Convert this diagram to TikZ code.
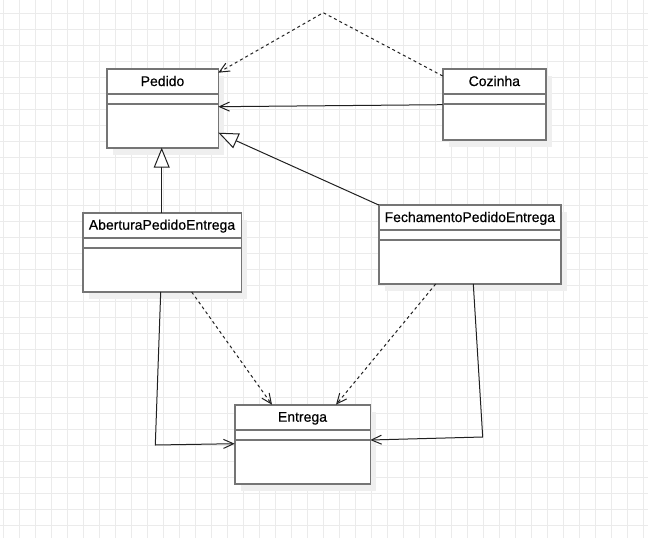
\documentclass[tikz,border=0pt]{standalone}
\usepackage{fontspec}
\setmainfont{Liberation Sans}
\usetikzlibrary{arrows.meta,calc}
\definecolor{gridc}{HTML}{EBEBEB}
\definecolor{shadowc}{HTML}{EFEFEF}
\definecolor{boxc}{HTML}{757575}
\definecolor{linec}{HTML}{202020}
\tikzset{
  gridline/.style={draw=gridc, line width=1pt},
  cls/.style={draw=boxc, fill=white, line width=1.6pt, rectangle, inner sep=0pt, outer sep=0pt, anchor=north west},
  shadowbox/.style={fill=shadowc, draw=none},
  sepline/.style={draw=boxc, line width=1.6pt},
  title/.style={font=\fontsize{14}{16}\selectfont\addfontfeature{FakeBold=0.5}, anchor=base, inner sep=0pt},
  vee/.style={-{Straight Barb[length=10pt,width=9pt,line width=1pt]}},
  inh/.style={-{Triangle[length=20pt,width=16pt,fill=white,line width=1pt]}},
  conn/.style={draw=linec, line width=1pt},
  dep/.style={conn, dash pattern=on 3pt off 3pt},
}
\newcommand{\umlclass}[6]{% name, x, y, w, h, title
  \fill[shadowbox] (#2+6,#3+7) rectangle (#2+#4+6,#3+#5+7);
  \node[cls, minimum width=#4pt, minimum height=#5pt] (#1) at (#2,#3) {};
  \draw[sepline] (#2,#3+25) -- (#2+#4,#3+25);
  \draw[sepline] (#2,#3+35) -- (#2+#4,#3+35);
  \node[title] (#1-t) at (#2+#4/2,#3+17) {#6};
}
\begin{document}
\begin{tikzpicture}[x=1pt,y=-1pt]
\useasboundingbox (0,0) rectangle (648,538);
\fill[white] (0,0) rectangle (648,538);
\foreach \gx in {3.3,19.3,...,648} \draw[gridline] (\gx,0) -- (\gx,538);
\foreach \gy in {13.3,29.3,...,538} \draw[gridline] (0,\gy) -- (648,\gy);

\umlclass{pedido}{106.7}{69}{111.6}{78.7}{Pedido}
\umlclass{cozinha}{442.7}{69}{103.3}{70.7}{Cozinha}
\umlclass{fech}{378.7}{205}{182.3}{79}{FechamentoPedidoEntrega}
\umlclass{abert}{82.7}{212.7}{158.6}{79.3}{AberturaPedidoEntrega}
\umlclass{entrega}{234.7}{404.7}{135.6}{79.3}{Entrega}

\coordinate (apex) at (323.3,12.7);
\coordinate (bendA) at (155.3,445);
\coordinate (bendF) at (482.7,437);

% Cozinha -> Pedido (dependency via apex)
\draw[dep, vee] ($(cozinha.north west)+(0,7)$) -- (apex) -- ($(pedido.north east)+(0,3.7)$);
% Cozinha -> Pedido (association)
\draw[conn, vee] ($(cozinha.north west)+(0,35.7)$) -- ($(pedido.north east)+(0,37.7)$);
% generalizations
\draw[conn, inh] ($(abert.north west)+(79,0)$) -- ($(pedido.south west)+(55,0)$);
\draw[conn, inh] (fech.north west) -- ($(pedido.north east)+(0,63.7)$);
% dependencies to Entrega
\draw[dep, vee] ($(abert.south west)+(109,0)$) -- ($(entrega.north west)+(37.3,0)$);
\draw[dep, vee] ($(fech.south west)+(57,0)$) -- ($(entrega.north west)+(101.3,0)$);
% associations to Entrega
\draw[conn, vee] ($(abert.south west)+(78,0)$) -- (bendA) -- ($(entrega.north west)+(0,39)$);
\draw[conn, vee] ($(fech.south west)+(94.6,0)$) -- (bendF) -- ($(entrega.north east)+(0,35.3)$);
\end{tikzpicture}
\end{document}
